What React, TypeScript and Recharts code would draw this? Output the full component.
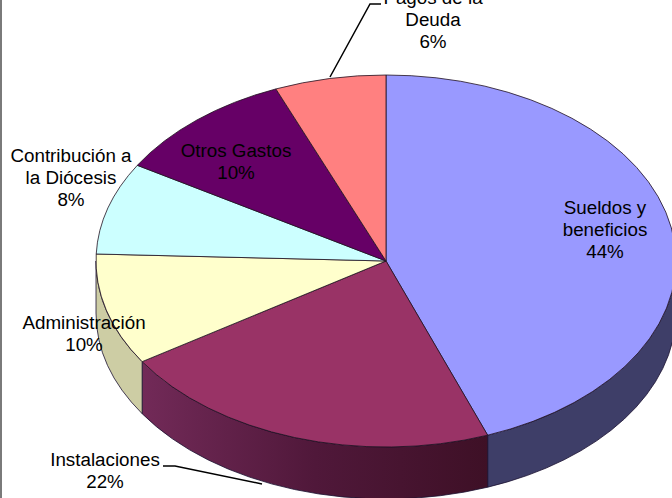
import React from 'react';
import { PieChart, Pie } from 'recharts';

const categories = ['Sueldos y beneficios', 'Instalaciones', 'Administración', 'Contribución a la Diócesis', 'Otros Gastos', 'Pagos de la Deuda'];
const values = [44.3, 21.6, 9.7, 8.0, 10.2, 6.2];
const topFills = ['#9999ff', '#993366', '#ffffcc', '#ccffff', '#660066', '#ff8080'];
const sideFills = ['#3e3e68', 'url(#installSide)', '#cdcda4', '#a3cccc', '#520052', '#cc6666'];
const labelLines = [
  ['Sueldos y', 'beneficios', '44%'],
  ['Instalaciones', '22%'],
  ['Administración', '10%'],
  ['Contribución a', 'la Diócesis', '8%'],
  ['Otros Gastos', '10%'],
  ['Pagos de la', 'Deuda', '6%'],
];

const WIDTH = 672;
const HEIGHT = 498;
const CX = 386;
const CY = 261;
const RX = 290;
const SQUASH = 186 / 290;
const DEPTH = 52;
const FONT = '"Liberation Sans", Arial, sans-serif';
const LINE_H = 22;
// centre x / baseline of the first line of every label
const labelAnchors = [
  [605, 214],
  [105, 466],
  [84, 329],
  [71, 162],
  [236, 157],
  [433, 4],
];
const leaders = [
  null,
  '163,466 175,466 262,484',
  null,
  null,
  null,
  '330,77 370,4 381,4',
];

const data = categories.map((name, i) => ({ name, value: values[i], fill: topFills[i] }));

const rad = (d: number) => (d * Math.PI) / 180;

function SliceShape(props: any) {
  const { cx, cy, startAngle, endAngle, outerRadius, fill, name } = props;
  const rx = outerRadius;
  const ry = outerRadius * SQUASH;
  const pt = (deg: number, dy = 0) => `${cx + rx * Math.cos(rad(deg))} ${cy - ry * Math.sin(rad(deg)) + dy}`;
  const index = categories.indexOf(name ?? props.payload?.name);
  const large = Math.abs(startAngle - endAngle) > 180 ? 1 : 0;
  const top = `M ${cx} ${cy} L ${pt(startAngle)} A ${rx} ${ry} 0 ${large} 1 ${pt(endAngle)} Z`;
  const a = Math.min(startAngle, 0);
  const b = Math.max(endAngle, -180);
  const side = a > b
    ? `M ${pt(a)} A ${rx} ${ry} 0 0 1 ${pt(b)} L ${pt(b, DEPTH)} A ${rx} ${ry} 0 0 0 ${pt(a, DEPTH)} Z`
    : null;
  return (
    <g>
      {side && <path d={side} fill={sideFills[index]} stroke="#1a1030" strokeWidth={0.8} />}
      <path d={top} fill={fill} stroke="#201020" strokeWidth={0.8} />
    </g>
  );
}

function renderLabel(props: any) {
  const { index } = props;
  const [x, y] = labelAnchors[index];
  return (
    <g key={index}>
      {leaders[index] && <polyline points={leaders[index] as string} fill="none" stroke="#000" strokeWidth={1.5} />}
      <text x={x} y={y} textAnchor="middle" fontFamily={FONT} fontSize={18.8} fill="#000">
        {labelLines[index].map((line, k) => (
          <tspan key={line} x={x} y={y + k * LINE_H}>{line}</tspan>
        ))}
      </text>
    </g>
  );
}

export default function App() {
  return (
    <div style={{ position: 'absolute', left: 0, top: 0, width: WIDTH, height: HEIGHT, overflow: 'hidden', background: '#fff' }}>
      <PieChart width={WIDTH} height={HEIGHT} margin={{ top: 0, right: 0, bottom: 0, left: 0 }}>
        <defs>
          <linearGradient id="installSide" x1="0" y1="0" x2="1" y2="0">
            <stop offset="0" stopColor="#722a58" />
            <stop offset="0.5" stopColor="#50183a" />
            <stop offset="1" stopColor="#3e1026" />
          </linearGradient>
        </defs>
        <Pie
          data={data}
          dataKey="value"
          nameKey="name"
          cx={CX}
          cy={CY}
          innerRadius={0}
          outerRadius={RX}
          startAngle={90}
          endAngle={-270}
          paddingAngle={0}
          stroke="none"
          shape={SliceShape}
          label={renderLabel}
          labelLine={false}
          isAnimationActive={false}
        />
      </PieChart>
      <div style={{ position: 'absolute', left: 0, top: 0, width: 2, height: HEIGHT, background: '#7a7a7a' }} />
    </div>
  );
}
